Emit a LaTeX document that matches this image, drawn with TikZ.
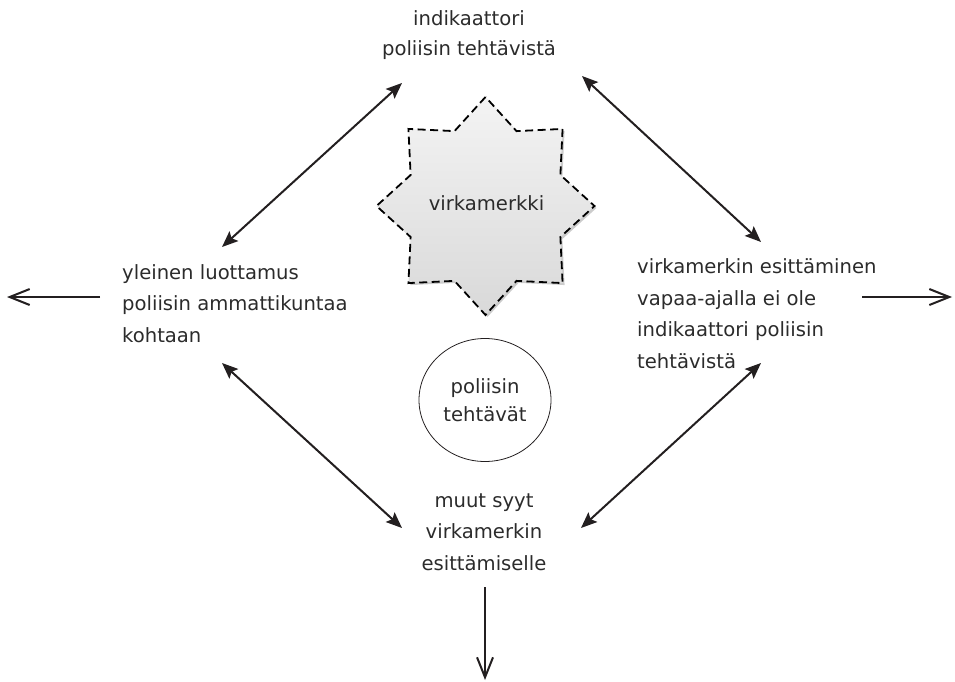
\documentclass[tikz,border=0pt]{standalone}
\usepackage{fontspec}
\setmainfont{DejaVu Sans}
\usetikzlibrary{arrows.meta,shapes.geometric,shadows}
\definecolor{ink}{HTML}{231F20}
\definecolor{txt}{HTML}{2B2B2B}
\begin{document}
\begin{tikzpicture}[x=1pt,y=-1pt,
  lbl/.style={inner sep=0pt, text=txt, font=\fontsize{19.6}{31.5}\selectfont},
  link/.style={draw=ink, line width=2pt,
    {Stealth[length=16pt,width=13pt,inset=3pt]}-{Stealth[length=16pt,width=13pt,inset=3pt]}},
  outarrow/.style={draw=ink, line width=2pt,
    -{Straight Barb[length=20pt,width=16pt,line width=2pt]}}
]
\path[use as bounding box] (0,0) rectangle (955,682);

% central badge
\node[star, star points=8, star point ratio=1.345, minimum size=218pt,
      inner sep=0pt, outer sep=0pt, draw=black, line width=1.8pt,
      dash pattern=on 8pt off 4.5pt, top color=gray!9, bottom color=gray!30,
      drop shadow={shadow xshift=2pt, shadow yshift=-2pt, fill=gray!40, opacity=1}]
      (badge) at (485.5,206) {};
\node[lbl, anchor=base] (badgetext) at (486.5,210.5) {virkamerkki};

% duties ellipse
\node[ellipse, draw=ink, line width=0.8pt, minimum width=132pt, minimum height=123pt,
      inner sep=0pt, align=center, text=txt, font=\fontsize{19.6}{28}\selectfont]
      (duty) at (485,400) {poliisin\\tehtävät};

% text blocks (base anchor sits on the last line)
\node[lbl, align=center, anchor=base, font=\fontsize{19.6}{30}\selectfont]
      (top) at (469,56) {indikaattori\\poliisin tehtävistä};
\node[lbl, align=left, anchor=base west] (lft) at (122,342)
      {yleinen luottamus\\poliisin ammattikuntaa\\kohtaan};
\node[lbl, align=left, anchor=base west] (rgt) at (637,368)
      {virkamerkin esittäminen\\vapaa-ajalla ei ole\\indikaattori poliisin\\tehtävistä};
\node[lbl, align=center, anchor=base] (bot) at (484,570)
      {muut syyt\\virkamerkin\\esittämiselle};

% connector ends
\coordinate (lft-up) at (222,247);
\coordinate (top-left) at (402,83);
\coordinate (top-right) at (582,76);
\coordinate (rgt-up) at (761,242);
\coordinate (lft-down) at (222,363);
\coordinate (bot-left) at (402,528);
\coordinate (rgt-down) at (761,363);
\coordinate (bot-right) at (581,528);
\coordinate (lft-from) at (100,297);
\coordinate (lft-to) at (7,297);
\coordinate (rgt-from) at (862,297);
\coordinate (rgt-to) at (952,297);
\coordinate (bot-from) at (485,587);
\coordinate (bot-to) at (485,680);

% two-way links
\draw[link] (lft-up) -- (top-left);
\draw[link] (top-right) -- (rgt-up);
\draw[link] (lft-down) -- (bot-left);
\draw[link] (rgt-down) -- (bot-right);

% outward arrows
\draw[outarrow] (lft-from) -- (lft-to);
\draw[outarrow] (rgt-from) -- (rgt-to);
\draw[outarrow] (bot-from) -- (bot-to);
\end{tikzpicture}
\end{document}
